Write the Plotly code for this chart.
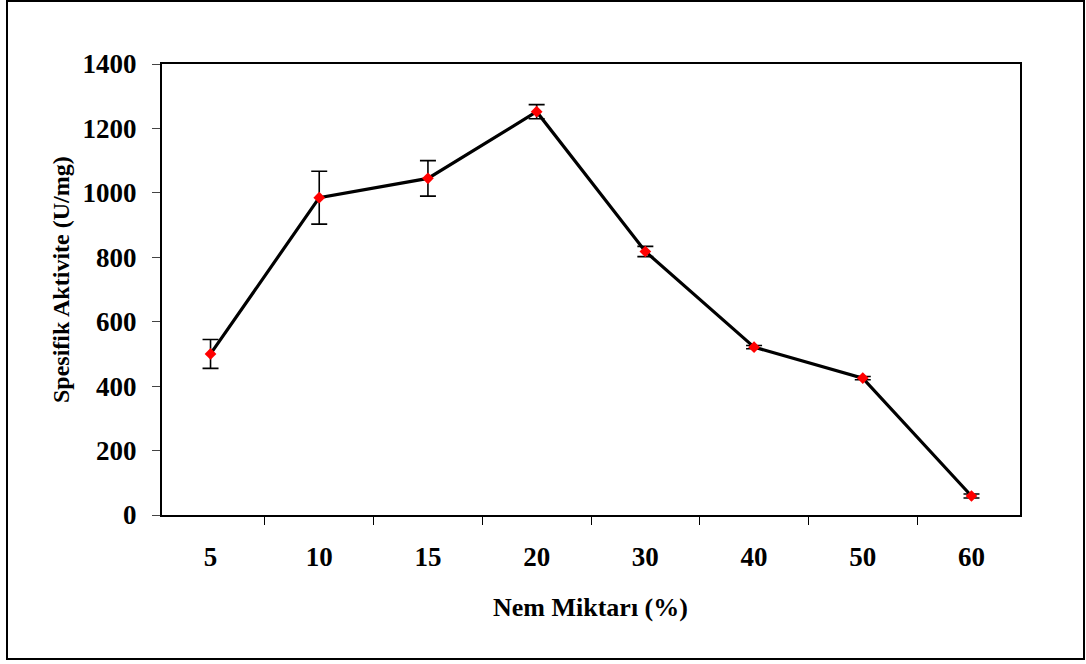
import plotly.graph_objects as go

categories = ["5", "10", "15", "20", "30", "40", "50", "60"]
activity = [500, 985, 1045, 1252, 818, 521, 425, 59]
error = [45, 82, 55, 22, 16, 5, 5, 6]
y_ticks = [0, 200, 400, 600, 800, 1000, 1200, 1400]

FAMILY = "Liberation Serif, Times New Roman, serif"
TICKFONT = dict(family=FAMILY, size=27, color="black", weight="bold")
TITLEFONT = dict(family=FAMILY, size=26, color="black", weight="bold")

fig = go.Figure()
fig.add_trace(go.Scatter(
    x=categories, y=activity,
    mode="lines+markers",
    line=dict(color="black", width=3.2),
    marker=dict(symbol="diamond", color="red", size=9),
    error_y=dict(type="data", array=error, visible=True, color="black", thickness=1.6, width=8),
    showlegend=False,
))

W, H = 1086, 664
L, R, T, B = 162, 1020, 64, 515
pw, ph = R - L, B - T
def px_x(x):
    return (x - L) / pw
def px_y(y):
    return (B - y) / ph

fig.update_layout(
    width=W, height=H,
    margin=dict(l=L, r=W - R, t=T, b=H - B),
    paper_bgcolor="white", plot_bgcolor="white",
    font=TICKFONT,
    xaxis=dict(
        type="category", tickson="boundaries", ticks="outside", ticklen=8, tickcolor="black",
        showline=True, linecolor="black", linewidth=2, mirror=True, showgrid=False,
        tickfont=TICKFONT, ticklabelstandoff=17, automargin=False,
    ),
    yaxis=dict(
        range=[0, 1400], tickvals=y_ticks, ticks="outside", ticklen=8, tickcolor="#444",
        showline=True, linecolor="black", linewidth=2, mirror=True, showgrid=False, zeroline=False,
        tickfont=TICKFONT, ticklabelstandoff=10, automargin=False,
    ),
)

fig.add_annotation(text="Nem Miktarı (%)", xref="paper", yref="paper",
                   x=px_x(590), y=px_y(607), xanchor="center", yanchor="middle",
                   showarrow=False, font=TITLEFONT)
fig.add_annotation(text="Spesifik Aktivite (U/mg)", xref="paper", yref="paper",
                   x=px_x(61), y=px_y(280), xanchor="center", yanchor="middle",
                   textangle=-90, showarrow=False, font=dict(TITLEFONT, size=24))

# outer chart border
fig.add_shape(type="rect", xref="paper", yref="paper",
              x0=px_x(7), x1=px_x(1084), y0=px_y(659), y1=px_y(1),
              line=dict(color="black", width=2), fillcolor="rgba(0,0,0,0)", layer="below")

fig.write_html("out.html")
